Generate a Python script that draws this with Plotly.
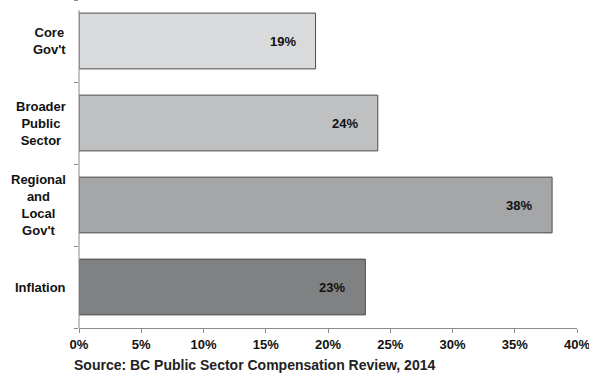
import plotly.graph_objects as go

# Wage growth by sector versus inflation
categories = ["Core<br>Gov't", "Broader<br>Public<br>Sector", "Regional<br>and<br>Local<br>Gov't", "Inflation"]
values = [19, 24, 38, 23]
bar_colors = ["#d9dadb", "#bfc0c2", "#a5a6a8", "#808183"]
x_ticks = [0, 5, 10, 15, 20, 25, 30, 35, 40]

FONT = "Liberation Sans, Arial, sans-serif"
PLOT_H = 328

fig = go.Figure(
    go.Bar(
        y=categories,
        x=values,
        orientation="h",
        marker=dict(color=bar_colors, line=dict(color="#4d4d4d", width=1)),
        hoverinfo="skip",
    )
)

# value labels inside bar ends
for cat, v in zip(categories, values):
    fig.add_annotation(
        x=v, y=cat, xref="x", yref="y",
        text=f"<b>{v}%</b>", showarrow=False,
        xanchor="right", xshift=-18,
        font=dict(family=FONT, size=13, color="#111111"),
    )

# category labels, centred multi-line text
for cat in categories:
    fig.add_annotation(
        x=0, y=cat, xref="paper", yref="y",
        text=f"<b>{cat}</b>", showarrow=False,
        xanchor="right", align="center", xshift=-11,
        font=dict(family=FONT, size=13, color="#111111"),
    )

fig.add_annotation(
    x=0, y=0, xref="paper", yref="paper",
    text="<b>Source: BC Public Sector Compensation Review, 2014</b>",
    showarrow=False, xanchor="left", yanchor="middle",
    xshift=-7, yshift=-37,
    font=dict(family=FONT, size=14, color="#222222"),
)

# vertical axis line, starting a little below the top edge
fig.add_shape(
    type="line", xref="paper", yref="paper",
    x0=0, x1=0, y0=0, y1=1 - 10 / PLOT_H,
    line=dict(color="#8c8c8c", width=1),
)

fig.update_layout(
    width=589, height=376,
    margin=dict(l=79, r=12, t=0, b=48),
    paper_bgcolor="white", plot_bgcolor="white",
    showlegend=False,
    bargap=0.32,
    font=dict(family=FONT, size=12, color="#111111"),
)

fig.update_xaxes(
    range=[0, 40], tickvals=x_ticks,
    ticktext=[f"<b>{t}%</b>" for t in x_ticks],
    ticklabeloverflow="allow",
    showgrid=False, zeroline=False,
    showline=True, linecolor="#8c8c8c", linewidth=1,
    ticks="outside", ticklen=4, tickcolor="#8c8c8c",
    tickfont=dict(family=FONT, size=13, color="#111111"),
)
fig.update_yaxes(
    categoryorder="array", categoryarray=categories[::-1],
    showticklabels=False, showgrid=False, zeroline=False,
    showline=False,
    ticks="outside", ticklen=4, tickcolor="#8c8c8c",
    tickson="boundaries",
)

fig.write_html("out.html")
